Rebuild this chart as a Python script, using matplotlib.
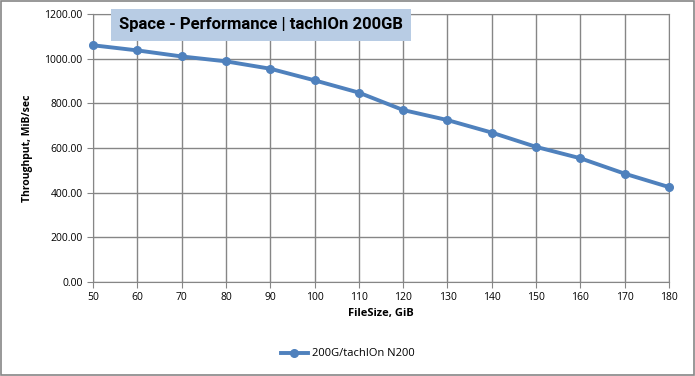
import numpy as np
import matplotlib.pyplot as plt
from matplotlib.ticker import FormatStrFormatter

file_size = [50, 60, 70, 80, 90, 100, 110, 120, 130, 140, 150, 160, 170, 180]
throughput = [1060, 1037, 1010, 988, 955, 903, 848, 770, 725, 669, 605, 554, 485, 425]
serie = '200G/tachIOn N200'

plt.rcParams['font.family'] = ['Open Sans', 'DejaVu Sans']

fig = plt.figure(figsize=(6.95, 3.76), dpi=100)
ax = fig.add_axes([93/695, 1 - 282/376, (669 - 93)/695, (282 - 14)/376])

ax.plot(file_size, throughput, marker='o', markersize=5.5, linewidth=2.8,
        color='#4f81bd', label=serie, clip_on=False, zorder=3)

ax.set_xlim(50, 180)
ax.set_ylim(0, 1200)
ax.set_xticks(np.arange(50, 181, 10))
ax.set_yticks(np.arange(0, 1201, 200))
ax.yaxis.set_major_formatter(FormatStrFormatter('%.2f'))
ax.grid(True, color='#868686', linewidth=1)
ax.set_axisbelow(True)
for s in ax.spines.values():
    s.set_color('#868686')
ax.tick_params(labelsize=7.5, length=4, color='#868686', direction='out')
ax.tick_params(axis='x', pad=3)

ax.set_xlabel('FileSize, GiB', fontsize=8, fontweight='bold', labelpad=4)
ax.set_ylabel('Throughput, MiB/sec', fontsize=7.5, fontweight='bold', labelpad=8)

fig.text(261/695, 1 - 25/376, 'Space - Performance | tachIOn 200GB', fontsize=12,
         ha='center', va='center', fontweight='bold',
         family=['Roboto', 'DejaVu Sans'],
         bbox=dict(boxstyle='square,pad=0.5', facecolor='#b8cce4', edgecolor='none'))

fig.legend(loc='center', bbox_to_anchor=(0.5, 1 - 354/376), frameon=False, fontsize=8,
           handlelength=2.5, handletextpad=0.3)

fig.patches.append(plt.Rectangle((0.001, 0.002), 0.997, 0.996, transform=fig.transFigure,
                                 fill=False, edgecolor='#868686', linewidth=1.2))

fig.savefig('out.png', dpi=100)
